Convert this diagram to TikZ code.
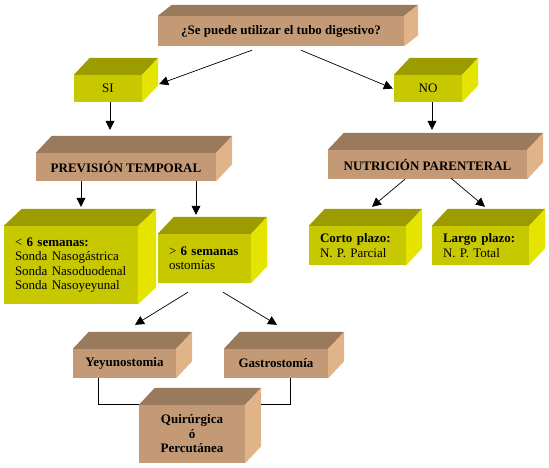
\documentclass[tikz,border=0pt]{standalone}
\usepackage{fontspec}
\setmainfont{Liberation Serif}
\usetikzlibrary{arrows.meta,calc}

\definecolor{cafe}{RGB}{196,154,118}
\definecolor{cafetop}{RGB}{154,122,92}
\definecolor{cafeside}{RGB}{224,180,136}
\definecolor{oliva}{RGB}{200,200,0}
\definecolor{olivatop}{RGB}{156,156,0}
\definecolor{olivaside}{RGB}{228,228,0}

% top and side faces of a box: [offset]{node}{colour}
\newcommand{\caras}[3][16,-17]{%
  \fill[#3top] (#2.north west) -- ++(#1) -- ($(#2.north east)+(#1)$) -- (#2.north east) -- cycle;
  \fill[#3side] (#2.north east) -- ++(#1) -- ($(#2.south east)+(#1)$) -- (#2.south east) -- cycle;}

\begin{document}
			\begin{tikzpicture}[x=1pt, y=-1pt,
				caja/.style={fill=#1, inner sep=0pt, align=center, font=\fontsize{13}{14.5}\selectfont},
				lista/.style={fill=#1, inner xsep=11pt, inner ysep=0pt, align=left, font=\fontsize{13}{14.5}\selectfont},
				flecha/.style={line width=0.7pt, -{Triangle[width=9pt,length=9pt]}},
				liga/.style={line width=0.7pt}]
\useasboundingbox (0,0) rectangle (549,467);

\node[caja=cafe, minimum width=246, minimum height=30] (preg) at (281,31) {\textbf{¿Se puede utilizar el tubo digestivo?}};
\caras[14,-11]{preg}{cafe}

\node[caja=oliva, minimum width=68, minimum height=27] (si) at (108,88.5) {SI};
\caras{si}{oliva}
\node[caja=oliva, minimum width=68, minimum height=27] (no) at (428,88.5) {NO};
\caras{no}{oliva}

\node[caja=cafe, minimum width=180, minimum height=28] (prev) at (126,167) {\textbf{PREVISIÓN TEMPORAL}};
\caras{prev}{cafe}
\node[caja=cafe, minimum width=199, minimum height=29] (nut) at (427.5,164.5) {\textbf{NUTRICIÓN PARENTERAL}};
\caras{nut}{cafe}

\node[lista=oliva, text width=112, minimum height=78] (menos) at (71,265) {< \textbf{6 semanas:}\\Sonda Nasogástrica\\Sonda Nasoduodenal\\Sonda Nasoyeyunal};
\caras[18,-17]{menos}{oliva}
\node[lista=oliva, text width=71, minimum height=49] (mas) at (204.5,258.5) {> \textbf{6 semanas}\\ostomías};
\caras{mas}{oliva}

\node[lista=oliva, text width=75, minimum height=39] (corto) at (357.5,245.5) {\textbf{Corto plazo:}\\N. P. Parcial};
\caras{corto}{oliva}
\node[lista=oliva, text width=75, minimum height=39] (largo) at (480.5,245.5) {\textbf{Largo plazo:}\\N. P. Total};
\caras{largo}{oliva}

\node[caja=cafe, minimum width=103, minimum height=29] (yeyu) at (124.5,363.5) {\textbf{Yeyunostomia}};
\caras{yeyu}{cafe}
\node[caja=cafe, minimum width=104, minimum height=29] (gastro) at (276,363.5) {\textbf{Gastrostomía}};
\caras{gastro}{cafe}
\node[caja=cafe, minimum width=106, minimum height=58] (quir) at (192,434) {\textbf{Quirúrgica}\\\textbf{ó}\\\textbf{Percutánea}};
\caras{quir}{cafe}

% connectors
\draw[flecha] ($(preg.south)+(-29,4)$) -- ($(si.east)+(17,-4.5)$);
\draw[flecha] ($(preg.south)+(20,4)$) -- ($(no.west)+(-1,0)$);
\draw[flecha] ($(si.south)+(2,0)$) -- ($(si.south |- prev.north)+(2,-23)$);
\draw[flecha] ($(no.south)+(4,0)$) -- ($(no.south |- nut.north)+(4,-20)$);
\draw[flecha] ($(prev.south)+(-45,0)$) -- ($(menos.north)+(10,-19)$);
\draw[flecha] ($(prev.south)+(70,0)$) -- ($(mas.north)+(-8.5,-19)$);
\draw[flecha] ($(nut.south)+(-22.5,0)$) -- ($(corto.north)+(14.5,-19)$);
\draw[flecha] ($(nut.south)+(23.5,-1)$) -- ($(largo.north)+(4.5,-19)$);
\draw[flecha] ($(mas.south)+(-16.5,9)$) -- ($(yeyu.north)+(10.5,-24)$);
\draw[flecha] ($(mas.south)+(18.5,9)$) -- ($(gastro.north)+(1,-24)$);
\draw[liga] ($(yeyu.south)+(-26.5,0)$) |- (quir.north west);
\draw[liga] ($(gastro.south)+(14,0)$) |- ($(quir.north east)+(16,0)$);

			\end{tikzpicture}
\end{document}
